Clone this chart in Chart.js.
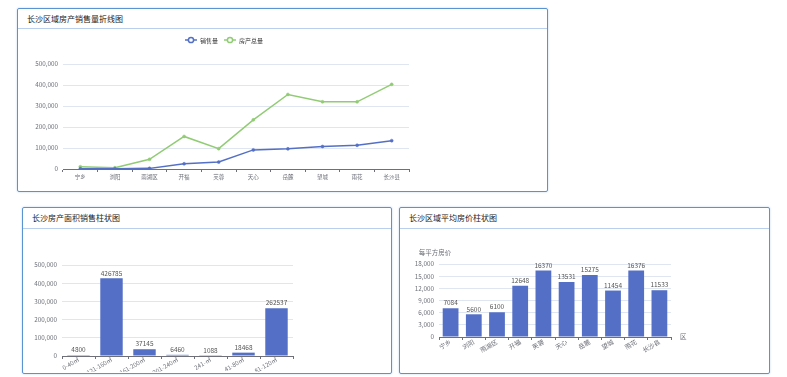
<!DOCTYPE html>
<html><head><meta charset="utf-8">
<script src="https://cdn.jsdelivr.net/npm/chart.js@4/dist/chart.umd.min.js"></script>
<style>
body{margin:0;width:787px;height:377px;background:#fff;position:relative;overflow:hidden;font-family:"Noto Sans CJK SC",sans-serif}
.panel{position:absolute;border:1px solid #5a93d2;border-radius:2px;box-sizing:border-box;box-shadow:0 0 2px rgba(90,147,210,.45)}
.ttl{position:absolute;left:0;top:0;right:0;height:19px;border-bottom:1px solid #b8d0ee;font-size:8px;line-height:19px;padding-left:9px;color:#222}
canvas{position:absolute}
</style></head>
<body>
<div class="panel" style="left:17px;top:8px;width:531px;height:184px"><div class="ttl">长沙区域房产销售量折线图</div></div>
<div class="panel" style="left:22px;top:207px;width:370px;height:167px"><div class="ttl" style="height:20px;line-height:20px">长沙房产面积销售柱状图</div></div>
<div class="panel" style="left:399px;top:207px;width:371px;height:167px"><div class="ttl" style="height:20px;line-height:20px">长沙区域平均房价柱状图</div></div>
<canvas id="c1" width="528" height="162" style="left:18px;top:28px"></canvas>
<canvas id="c2" width="367" height="143" style="left:23px;top:229px"></canvas>
<canvas id="c3" width="368" height="143" style="left:400px;top:229px"></canvas>
<script>
// ---- data ----
const districts = ['宁乡','浏阳','雨湖区','开福','芙蓉','天心','岳麓','望城','雨花','长沙县'];
const salesVolume = [1000, 1500, 3000, 25000, 33000, 91000, 96000, 107000, 113000, 135000];
const totalHousing = [11000, 6000, 46000, 155000, 97000, 234000, 355000, 320000, 320000, 403000];
const areaRanges = ['0-40㎡','121-160㎡','161-200㎡','201-240㎡','241-㎡','41-80㎡','81-120㎡'];
const areaSales = [4800, 426785, 37145, 6460, 1088, 18468, 262537];
const avgPrice = [7084, 5600, 6100, 12648, 16370, 13531, 15275, 11454, 16376, 11533];
const seriesNames = ['销售量','房产总量'];

const FONT = '"Noto Sans CJK SC", sans-serif';
const BLUE = '#5470c6', GREEN = '#91cc75', AXIS = '#6E7079', GRID = '#E0E6F1';
const fmt = v => Number(v).toLocaleString('en-US');

function yScale(max, step, w){
  return {min:0,max:max,beginAtZero:true,
    ticks:{stepSize:step,color:AXIS,font:{family:FONT,size:6.3},padding:5,callback:fmt},
    grid:{color:GRID,drawTicks:false,lineWidth:1},border:{display:false},
    afterFit:s=>{s.width=w;}};
}
function xScale(h, rot, size, pad){
  return {offset:true,
    ticks:{color:AXIS,font:{family:FONT,size:size},padding:pad,autoSkip:false,maxRotation:rot,minRotation:rot},
    grid:{offset:true,drawOnChartArea:false,drawTicks:true,tickLength:3,color:AXIS},
    border:{display:true,color:AXIS},
    afterFit:s=>{s.height=h;}};
}

const legendPlugin = {id:'lg', afterDraw(chart){
  const ctx=chart.ctx; ctx.save();
  ctx.font='6px '+FONT; ctx.textBaseline='middle';
  const y=12; let x=167;
  chart.data.datasets.forEach(ds=>{
    ctx.strokeStyle=ds.borderColor; ctx.lineWidth=1.5;
    ctx.beginPath(); ctx.moveTo(x,y); ctx.lineTo(x+12,y); ctx.stroke();
    ctx.beginPath(); ctx.arc(x+6,y,2.6,0,Math.PI*2); ctx.fillStyle='#fff'; ctx.fill(); ctx.stroke();
    ctx.fillStyle='#333'; ctx.fillText(ds.label,x+15,y+0.5);
    x += 15 + ctx.measureText(ds.label).width + 6;
  });
  ctx.restore();
}};

const valueLabels = {id:'vl', afterDatasetsDraw(chart){
  const ctx=chart.ctx; const meta=chart.getDatasetMeta(0); const d=chart.data.datasets[0].data;
  ctx.save(); ctx.font='6.5px '+FONT; ctx.fillStyle='#555'; ctx.textAlign='center'; ctx.textBaseline='bottom';
  meta.data.forEach((el,i)=>ctx.fillText(String(d[i]),el.x,el.y-2));
  ctx.restore();
}};

const axisNames = {id:'an', afterDraw(chart){
  const ctx=chart.ctx, a=chart.chartArea; ctx.save();
  ctx.font='6.5px '+FONT; ctx.fillStyle=AXIS; ctx.textBaseline='middle';
  ctx.textAlign='center'; ctx.fillText('每平方房价',a.left-4,a.top-11);
  ctx.textAlign='left'; ctx.fillText('区',a.right+9,a.bottom);
  ctx.restore();
}};

new Chart(document.getElementById('c1'),{
  type:'line',
  data:{labels:districts,datasets:[
    {label:seriesNames[0],data:salesVolume,borderColor:BLUE,backgroundColor:BLUE,borderWidth:1.5,pointRadius:1.5,pointBorderWidth:0.5,pointBackgroundColor:BLUE,tension:0},
    {label:seriesNames[1],data:totalHousing,borderColor:GREEN,backgroundColor:GREEN,borderWidth:1.5,pointRadius:1.5,pointBorderWidth:0.5,pointBackgroundColor:GREEN,tension:0}
  ]},
  options:{responsive:false,animation:false,
    layout:{padding:{left:0,right:137,top:36,bottom:0}},
    plugins:{legend:{display:false},tooltip:{enabled:false}},
    scales:{x:xScale(21,0,5.5,2),y:yScale(500000,100000,45)}},
  plugins:[legendPlugin]
});

new Chart(document.getElementById('c2'),{
  type:'bar',
  data:{labels:areaRanges,datasets:[{data:areaSales,backgroundColor:BLUE,barPercentage:0.68,categoryPercentage:1}]},
  options:{responsive:false,animation:false,
    layout:{padding:{left:0,right:97,top:36,bottom:0}},
    plugins:{legend:{display:false},tooltip:{enabled:false}},
    scales:{x:xScale(16,30,6,-3),y:yScale(500000,100000,39)}},
  plugins:[valueLabels]
});

new Chart(document.getElementById('c3'),{
  type:'bar',
  data:{labels:districts,datasets:[{data:avgPrice,backgroundColor:BLUE,barPercentage:0.68,categoryPercentage:1}]},
  options:{responsive:false,animation:false,
    layout:{padding:{left:0,right:97,top:35,bottom:15}},
    plugins:{legend:{display:false},tooltip:{enabled:false}},
    scales:{x:xScale(20,30,6.3,-2),y:yScale(18000,3000,39)}},
  plugins:[valueLabels,axisNames]
});
</script>
</body></html>
